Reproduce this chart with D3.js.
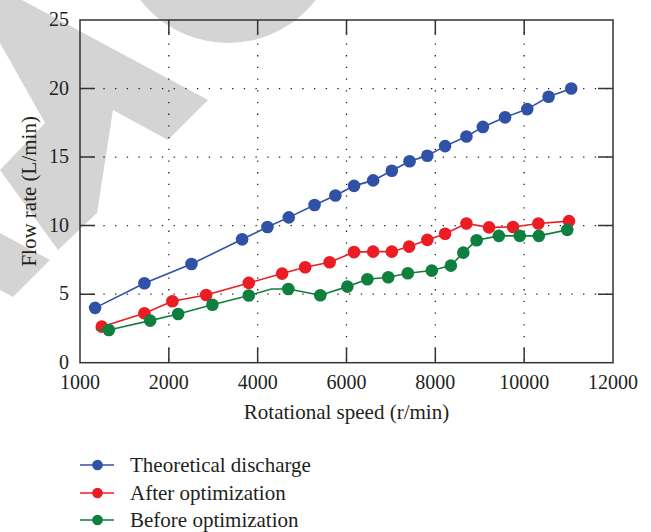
<!DOCTYPE html>
<html>
<head>
<meta charset="utf-8">
<script src="https://cdn.jsdelivr.net/npm/d3@7"></script>
<style>
  body { margin: 0; background: #fff; }
  text { font-family: "Liberation Serif", "DejaVu Serif", serif; fill: #231f20; }
</style>
</head>
<body>
<div id="grafico"></div>
<script>
// eixo x: posições dos ticks e os rótulos tal como aparecem na figura
const xTicks = [0, 2000, 4000, 6000, 8000, 10000, 12000];
const xTickLabels = ["1000", "2000", "4000", "6000", "8000", "10000", "12000"];
const yTicks = [0, 5, 10, 15, 20, 25];

const seriesNames = ["Theoretical discharge", "After optimization", "Before optimization"];
const seriesColors = ["#2f51a6", "#ec1c24", "#0f7f3f"];

// Theoretical discharge
const teoricoSpeed = [340, 1450, 2510, 3650, 4220, 4700, 5280, 5750, 6170, 6600, 7020, 7420, 7820, 8220, 8700, 9070, 9570, 10070, 10550, 11060];
const teoricoFlow = [4.0, 5.8, 7.2, 9.0, 9.9, 10.6, 11.5, 12.2, 12.9, 13.3, 14.0, 14.7, 15.1, 15.8, 16.5, 17.2, 17.9, 18.5, 19.4, 20.0];

// After optimization (o primeiro vértice da linha não tem marcador)
const depoisSpeed = [360, 490, 1450, 2080, 2840, 3800, 4550, 5070, 5620, 6170, 6600, 7020, 7410, 7820, 8220, 8700, 9210, 9750, 10320, 11010];
const depoisFlow = [2.42, 2.63, 3.61, 4.48, 4.94, 5.82, 6.5, 6.96, 7.33, 8.07, 8.1, 8.1, 8.47, 8.96, 9.41, 10.15, 9.87, 9.9, 10.15, 10.33];
const depoisSemMarcador = [0];

// Before optimization
const antesSpeed = [380, 650, 1580, 2210, 2980, 3800, 4310, 4690, 5410, 6020, 6470, 6940, 7380, 7920, 8350, 8630, 8930, 9430, 9900, 10330, 10970];
const antesFlow = [2.39, 2.39, 3.07, 3.55, 4.23, 4.9, 5.38, 5.38, 4.92, 5.55, 6.09, 6.23, 6.53, 6.72, 7.08, 8.03, 8.93, 9.25, 9.25, 9.25, 9.69];
const antesSemMarcador = [0, 6];

const W = 651, H = 532;
const mLeft = 80, mRight = 613, mTop = 20, mBottom = 362.7;

const svg = d3.select('#grafico').append('svg')
    .attr('width', W)
    .attr('height', H);

// marca de água cinzenta atrás do gráfico
const marca = svg.append('g').attr('fill', '#d4d4d4');
marca.append('circle').attr('cx', 228).attr('cy', -68).attr('r', 111);
marca.append('polygon').attr('points', '0,0 22,0 208,100 168,140 113,110 97,213 58,250 0,170 45,123 0,43');
marca.append('polygon').attr('points', '0,233 50,260 13,297 0,290');

const x = d3.scaleLinear().domain([0, 12000]).range([mLeft, mRight]);
const y = d3.scaleLinear().domain([0, 25]).range([mBottom, mTop]);

// grelha pontilhada
const grelha = svg.append('g')
    .attr('stroke', '#231f20')
    .attr('stroke-width', 1.3)
    .style('stroke-dasharray', '1.3, 10.4');

grelha.selectAll('.gx')
    .data(xTicks.slice(1, -1))
    .enter()
    .append('line')
    .attr('x1', d => x(d)).attr('x2', d => x(d))
    .attr('y1', mTop).attr('y2', mBottom);

grelha.selectAll('.gy')
    .data(yTicks.slice(1, -1))
    .enter()
    .append('line')
    .attr('y1', d => y(d)).attr('y2', d => y(d))
    .attr('x1', mLeft).attr('x2', mRight);

// caixa e ticks interiores nos quatro lados
const tickLen = 15;
const eixos = svg.append('g').attr('stroke', '#333').attr('stroke-width', 1.5).attr('fill', 'none');
eixos.append('rect')
    .attr('x', mLeft).attr('y', mTop)
    .attr('width', mRight - mLeft).attr('height', mBottom - mTop);

eixos.selectAll('.tx')
    .data(xTicks.slice(1, -1))
    .enter()
    .append('path')
    .attr('d', d => 'M' + x(d) + ',' + mBottom + 'v' + (-tickLen) + 'M' + x(d) + ',' + mTop + 'v' + tickLen);

eixos.selectAll('.ty')
    .data(yTicks.slice(1, -1))
    .enter()
    .append('path')
    .attr('d', d => 'M' + mLeft + ',' + y(d) + 'h' + tickLen + 'M' + mRight + ',' + y(d) + 'h' + (-tickLen));

// rótulos dos ticks
svg.append('g').selectAll('text')
    .data(xTicks)
    .enter()
    .append('text')
    .attr('x', d => x(d))
    .attr('y', 389)
    .style('font-size', '20px')
    .style('text-anchor', 'middle')
    .text((d, i) => xTickLabels[i]);

svg.append('g').selectAll('text')
    .data(yTicks)
    .enter()
    .append('text')
    .attr('x', 69)
    .attr('y', d => y(d) + 6)
    .style('font-size', '20px')
    .style('text-anchor', 'end')
    .text(d => d);

// títulos dos eixos
svg.append('text')
    .attr('x', (mLeft + mRight) / 2)
    .attr('y', 419)
    .style('font-size', '21px')
    .style('text-anchor', 'middle')
    .text('Rotational speed (r/min)');

svg.append('text')
    .attr('transform', 'translate(36,' + (mTop + mBottom) / 2 + ') rotate(-90)')
    .style('font-size', '21px')
    .style('text-anchor', 'middle')
    .text('Flow rate (L/min)');

// séries
const series = [
    { speed: teoricoSpeed, flow: teoricoFlow, semMarcador: [] },
    { speed: depoisSpeed, flow: depoisFlow, semMarcador: depoisSemMarcador },
    { speed: antesSpeed, flow: antesFlow, semMarcador: antesSemMarcador }
];

const linha = d3.line()
    .x(d => x(d[0]))
    .y(d => y(d[1]));

series.forEach((s, k) => {
    const pontos = s.speed.map((v, i) => [v, s.flow[i], i]);
    const g = svg.append('g');
    g.append('path')
        .datum(pontos)
        .attr('d', linha)
        .attr('fill', 'none')
        .attr('stroke', seriesColors[k])
        .attr('stroke-width', 1.6);
    g.selectAll('circle')
        .data(pontos.filter(p => s.semMarcador.indexOf(p[2]) < 0))
        .enter()
        .append('circle')
        .attr('cx', p => x(p[0]))
        .attr('cy', p => y(p[1]))
        .attr('r', 6.3)
        .attr('fill', seriesColors[k]);
});

// legenda
const legenda = svg.append('g').selectAll('g')
    .data(seriesNames)
    .enter()
    .append('g')
    .attr('transform', (d, i) => 'translate(0,' + [465, 493, 520][i] + ')');

legenda.append('line')
    .attr('x1', 80).attr('x2', 114)
    .attr('stroke', (d, i) => seriesColors[i])
    .attr('stroke-width', 1.5);

legenda.append('circle')
    .attr('cx', 97.5)
    .attr('r', 5.3)
    .attr('fill', (d, i) => seriesColors[i]);

legenda.append('text')
    .attr('x', 130)
    .attr('y', 7)
    .style('font-size', '21px')
    .text(d => d);
</script>
</body>
</html>
